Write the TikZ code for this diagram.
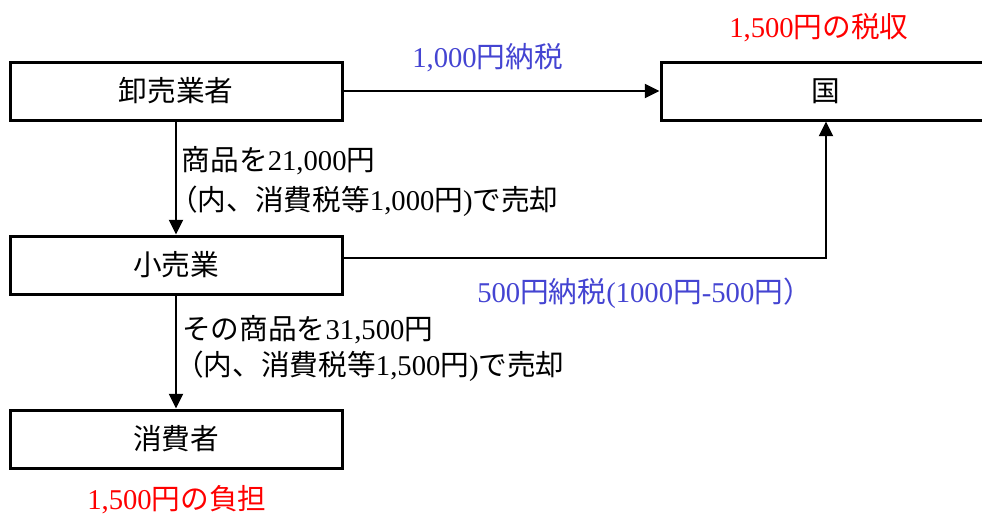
\documentclass[tikz,border=0pt]{standalone}
\usepackage{fontspec}
\setmainfont{Liberation Serif}
\newfontfamily\jp{Noto Sans CJK JP}
\usetikzlibrary{arrows.meta}
\newcommand\J[1]{{\jp #1}}
\definecolor{lblblue}{RGB}{68,68,210}
\definecolor{lblred}{RGB}{255,0,0}
\begin{document}
\begin{tikzpicture}[x=0.75pt,y=-0.75pt,
  box/.style={draw, line width=2.25pt, minimum width=249pt, minimum height=43.5pt,
    inner sep=0pt, font=\fontsize{21.5}{25}\selectfont},
  conn/.style={line width=1.5pt, -{Triangle[length=11pt,width=10.5pt]}},
  lbl/.style={inner sep=0pt, anchor=west, font=\fontsize{21.5}{25}\selectfont},
  blue lbl/.style={lbl, text=lblblue},
  red lbl/.style={lbl, text=lblred}]
\useasboundingbox (0,0) rectangle (982,515);
\fill[white] (0,0) rectangle (982,515);
% boxes
\node[box] (w) at (176,91) {\J{卸売業者}};
\node[box, minimum width=247.5pt] (k) at (826,91) {\J{国}};
\node[box] (r) at (176,265) {\J{小売業}};
\node[box] (c) at (176,439) {\J{消費者}};
% connectors
\draw[conn] (w.east) -- (k.west);
\draw[conn] (w.south) -- (r.north);
\draw[conn] ([yshift=5.25pt]r.east) -| (k.south);
\draw[conn] (r.south) -- (c.north);
% labels
\node[red lbl] (t1) at (729,28) {1,500\J{円の税収}};
\node[blue lbl] (t2) at (412,58) {1,000\J{円納税}};
\node[lbl] (t3) at (181.5,161) {\J{商品を}21,000\J{円}};
\node[lbl] (t4) at (169,201) {\J{（内、消費税等}1,000\J{円})\J{で売却}};
\node[blue lbl] (t5) at (477,293) {500\J{円納税}(1000\J{円}-500\J{円）}};
\node[lbl] (t6) at (182,330) {\J{その商品を}31,500\J{円}};
\node[lbl] (t7) at (175,366) {\J{（内、消費税等}1,500\J{円})\J{で売却}};
\node[red lbl] (t8) at (87,500) {1,500\J{円の負担}};
\end{tikzpicture}
\end{document}
